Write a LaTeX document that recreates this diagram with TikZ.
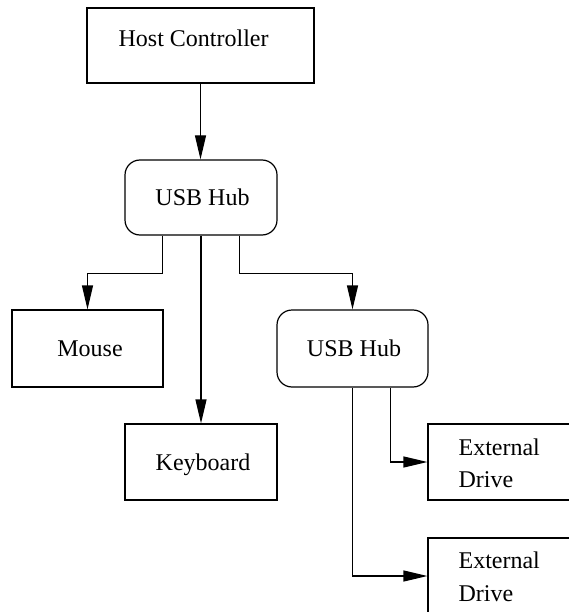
\documentclass[tikz,border=0pt]{standalone}
\usepackage{fontspec}
\setmainfont{Liberation Serif}
\newfontfamily\labelfont{Liberation Serif}
\usetikzlibrary{arrows.meta}

\begin{document}
\begin{tikzpicture}[x=1pt,y=-1pt,
  line width=1.2pt,
  box/.style={draw, rectangle, inner sep=0pt, minimum height=76pt},
  hub/.style={box, rounded corners=15pt},
  lbl/.style={inner sep=0pt, font=\labelfont\fontsize{24}{28}\selectfont},
  link/.style={-{Triangle[length=24pt,width=11pt]}}
]
\useasboundingbox (0,0) rectangle (569,612);
\clip (0,0) rectangle (569,612);

% boxes
\node[box, minimum width=227pt, minimum height=75pt] (hc) at (200.5,45.5) {};
\node[hub, minimum width=152pt, minimum height=75pt] (hubA) at (201,197.5) {};
\node[box, minimum width=151pt, minimum height=77pt] (mouse) at (87.5,348.5) {};
\node[hub, minimum width=151pt, minimum height=77pt] (hubB) at (352.5,348.5) {};
\node[box, minimum width=152pt] (kbd) at (201,462) {};
\node[box, minimum width=152pt] (driveA) at (504,462) {};
\node[box, minimum width=152pt] (driveB) at (504,576) {};

% labels
\node[lbl, anchor=base west] (thc) at (118,47) {Host Controller};
\node[lbl, anchor=base] (thubA) at (202.5,205) {USB Hub};
\node[lbl, anchor=base] (tmouse) at (90,356.5) {Mouse};
\node[lbl, anchor=base] (thubB) at (354,356.5) {USB Hub};
\node[lbl, anchor=base] (tkbd) at (203,470) {Keyboard};
\node[lbl, anchor=base west] (tda1) at (458,455) {External};
\node[lbl, anchor=base west] (tda2) at (458,487) {Drive};
\node[lbl, anchor=base west] (tdb1) at (458,568) {External};
\node[lbl, anchor=base west] (tdb2) at (458,601) {Drive};

% connectors
\draw[link] (hc.south) -- (hc.south |- hubA.north);
\draw[link] ([xshift=38pt]hubA.south west) -- ++(0,38) -| (mouse.north);
\draw[link] (hubA.south) -- (kbd.north);
\draw[link] ([xshift=-38pt]hubA.south east) -- ++(0,38) -| (hubB.north);
\draw[link] ([xshift=-38pt]hubB.south east) |- (driveA.west);
\draw[link] (hubB.south) |- (driveB.west);
\end{tikzpicture}
\end{document}
